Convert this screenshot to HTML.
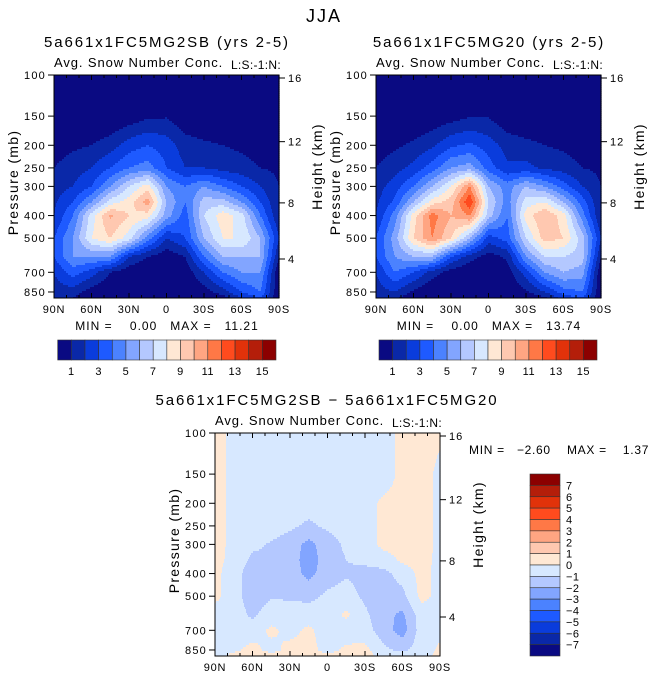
<!DOCTYPE html>
<html><head><meta charset="utf-8">
<style>
html,body{margin:0;padding:0;background:#fff;}
svg{display:block;font-family:"Liberation Sans",sans-serif;}
text{fill:#000;white-space:pre;}
</style></head>
<body>
<svg id="chart" width="648" height="681" viewBox="0 0 648 681">
<text x="324" y="22" font-size="18" text-anchor="middle" letter-spacing="2" fill="#333">JJA</text>
<g id="plots"></g>
</svg>
<script>
// ---- data ----
const lats = [90,75,60,45,30,15,0,-15,-30,-45,-60,-75,-90];
const levels = [100,150,200,250,300,350,400,500,600,700,850,900];
const fieldA = [
 [0,0,0,0,0,0,0,0,0,0,0,0,0],
 [0,0,0,0,0.3,0.8,0.9,0.2,0,0,0,0,0],
 [0.5,0.8,1,1.5,2.5,3,2.5,1.5,1.2,1,0.8,0.5,0.3],
 [1,1.5,2,3,4,4.5,3,2,2,1.6,1.4,1,0.8],
 [1.5,2,3,5,7,8.5,5,4,5,4,3,2,1],
 [1.8,3,5,7.5,8.5,10.5,6,4,6.5,6.5,5,3,1],
 [2,4,7.5,10.2,9,8.5,5.5,3.5,7,8.6,7.5,4,1],
 [3,5,8,9,7.5,4.5,2,3,6,8,8,6,2],
 [3,5,5,5,2,1,0.3,1,4,6,6,6,1],
 [2,3.5,2.5,1,0.3,0,0,0.3,2,4,5,5,0],
 [1.5,1.5,0.5,0,0,0,0,0,0.5,1.5,3,4,0],
 [1,1,0,0,0,0,0,0,0,0.5,2,3,0]
];
const fieldB = [
 [0,0,0,0,0,0,0,0,0,0,0,0,0],
 [0,0,0,0.2,0.5,0.9,0.9,0.2,0,0,0,0,0],
 [0.5,0.8,1.2,1.8,2.8,3.2,2.5,1.6,1.3,1,0.8,0.5,0.3],
 [1,1.6,2.3,3.5,5,5.5,3.5,2.2,2.3,1.8,1.5,1,0.8],
 [1.5,2.5,4,6,8,11,6,4.5,6,5,3.5,2,1],
 [1.8,3.2,6,8.5,9.5,13,7,4.5,7.5,8,6,3.5,1],
 [2,4.5,8.5,11.5,10,11,6.5,4,8.5,10,8.5,4.5,1],
 [3,5.5,9,11,9,6,2.5,3.5,7,9.5,9,6.5,2],
 [3,5,6,6,3,1.5,0.5,1.2,5,7,7,6.5,1],
 [2,4,3,1.5,0.5,0,0,0.5,2.5,5,6,5.5,0],
 [1.5,2,0.8,0,0,0,0,0,0.8,2,3.5,4,0],
 [1,1.2,0.2,0,0,0,0,0,0,0.8,2.5,3,0]
];
const fieldDiff = [
 [0.4,-0.3,-0.5,-0.3,-0.5,-0.5,-0.5,-0.5,-0.5,-0.5,0.3,0.5,0.2],
 [0.4,-0.3,-0.5,-0.3,-0.5,-0.5,-0.5,-0.5,-0.5,-0.5,0.3,0.5,-0.3],
 [0.4,-0.3,-0.5,-0.5,-0.5,-0.5,-0.5,-0.5,-0.4,0.2,0.3,0.5,-0.3],
 [0.4,-0.3,-0.5,-0.5,-0.8,-1.2,-0.8,-0.5,-0.5,0.3,0.4,0.5,-0.3],
 [0.4,-0.3,-0.8,-1.1,-1.5,-2.3,-1.5,-0.8,-0.5,0.3,0.4,0.5,-0.3],
 [0.4,-0.4,-1.2,-1.1,-1.5,-2.5,-1.5,-1,-0.8,-0.5,0.2,0.4,-0.3],
 [0.3,-0.6,-1.5,-1.2,-1.5,-2.3,-1.5,-1.1,-1.3,-1.3,-0.6,0.3,-0.3],
 [0.3,-0.6,-1.5,-1.1,-1.2,-1.3,-0.8,-0.6,-1.2,-1.5,-1.3,0.3,-0.3],
 [-0.5,-0.5,-1.2,-0.5,-0.3,-0.5,-0.5,0.2,-0.8,-1.7,-2.2,-0.5,-0.3],
 [-0.5,-0.5,-0.5,0.2,-0.3,0.2,-0.5,-0.5,-0.6,-1.5,-2.5,-0.5,-0.3],
 [-0.5,-0.2,0.3,-0.3,0.3,0.3,-0.3,0.2,0.3,-0.8,-1.2,-0.5,0.2],
 [-0.5,0.3,0.5,0.3,0.5,0.3,0.2,0.3,0.5,-0.5,-0.5,-0.4,0.3]
];
const pressTicks = [100,150,200,250,300,400,500,700,850];
const latTicks = [90,60,30,0,-30,-60,-90];
const latTickLabels = ["90N","60N","30N","0","30S","60S","90S"];
const heightTicks = [16,12,8,4];
const heightTickPressure = [103,193,353,614];
const topBarLabels = [1,3,5,7,9,11,13,15];
const diffBarLabels = [7,6,5,4,3,2,1,0,-1,-2,-3,-4,-5,-6,-7];
const palette = ["#0a0a82","#0a28a8","#0a3cdc","#1e5aff","#4b82ff","#82a5ff","#b4c8ff","#d7e8ff","#ffe8d4","#ffc8b0","#ffa582","#ff7846","#ff4b1e","#e1320a","#b41e0a","#8c0000"];

const NS = "http://www.w3.org/2000/svg";
const root = document.getElementById('plots');
function mk(tag, attrs, parent){const e=document.createElementNS(NS,tag);for(const k in attrs)e.setAttribute(k,attrs[k]);(parent||root).appendChild(e);return e;}
function txt(x,y,s,size,anchor,parent,name,ls){const e=mk('text',{x:x,y:y,'font-size':size,'text-anchor':anchor||'start','letter-spacing':ls===undefined?1:ls},parent);e.textContent=s;


return e;}

const PH = 223, PW = 225, K = PH/Math.log(9.02);
function yScale(p,oy){return oy + K*Math.log(p/100);}
function xScale(lat,ox){return ox + PW*(90-lat)/180;}
function sample(grid, lat, p){
  let fi = (90-lat)/15; fi=Math.max(0,Math.min(12,fi));
  const i0=Math.min(11,Math.floor(fi)), tx=fi-i0;
  const lp=Math.log(p); let j0=0;
  while(j0<levels.length-2 && Math.log(levels[j0+1])<lp) j0++;
  let ty=(lp-Math.log(levels[j0]))/(Math.log(levels[j0+1])-Math.log(levels[j0]));
  ty=Math.max(0,Math.min(1,ty));
  const a=grid[j0][i0],b=grid[j0][i0+1],c=grid[j0+1][i0],d=grid[j0+1][i0+1];
  return (a*(1-tx)+b*tx)*(1-ty)+(c*(1-tx)+d*tx)*ty;
}
function panel(name, grid, ox, oy, idxFn){
  const g = mk('g',{});
  
  
  const rh=2;
  for(let y=0;y<PH;y+=rh){
    const p=100*Math.exp((y+rh/2)/K);
    let runStart=0, cur=null;
    for(let x=0;x<=PW;x++){
      let ci=null;
      if(x<PW){const lat=90-180*(x+0.5)/PW; ci=idxFn(sample(grid,lat,p));}
      if(ci!==cur){
        if(cur!==null){
          const r=mk('rect',{x:ox+runStart,y:oy+y,width:x-runStart+0.6,height:Math.min(rh+0.6,PH-y),fill:palette[cur]},g);
          
          
        }
        cur=ci; runStart=x;
      }
    }
  }
  const fr=mk('rect',{x:ox,y:oy,width:PW,height:PH,fill:'none',stroke:'#000','stroke-width':1},g);
  
  
  for(let lat=90;lat>=-90;lat-=10){
    const x=xScale(lat,ox), major=lat%30===0, L=major?5:3;
    mk('line',{x1:x,y1:oy+PH,x2:x,y2:oy+PH-L,stroke:'#000'},g);
    mk('line',{x1:x,y1:oy,x2:x,y2:oy+L,stroke:'#000'},g);
  }
  latTicks.forEach((lat,i)=>{txt(xScale(lat,ox),oy+PH+15,latTickLabels[i],11,'middle',g,'x-tick-label',0.8);});
  pressTicks.forEach(p=>{const y=yScale(p,oy);
    mk('line',{x1:ox-6,y1:y,x2:ox,y2:y,stroke:'#000'},g);
    txt(ox-8,y+4,String(p),11,'end',g,'y-tick-label',1.2);});
  heightTicks.forEach((h,i)=>{const y=yScale(heightTickPressure[i],oy);
    mk('line',{x1:ox+PW,y1:y,x2:ox+PW+6,y2:y,stroke:'#000'},g);
    txt(ox+PW+9,y+4,String(h),11,'start',g,'height-tick-label',1);});
  const yl=txt(0,0,'Pressure (mb)',14,'middle',g,'y-axis-title',1.3);
  yl.setAttribute('fill','#333');
  yl.setAttribute('transform',`translate(${ox-36},${oy+PH/2-4}) rotate(-90)`);
  const hl=txt(0,0,'Height (km)',14,'middle',g,'height-axis-title',1.3);
  hl.setAttribute('fill','#666');
  hl.setAttribute('transform',`translate(${ox+PW+43},${oy+PH/2-20}) rotate(-90)`);
  txt(ox,oy-8,'Avg. Snow Number Conc.',13,'start',g,'variable-label',0.9);
  txt(ox+PW+2,oy-6,'L:S:-1:N:',12,'end',g,'level-label',0.3);
}
const topIdx=v=>Math.max(0,Math.min(15,Math.floor(v)));
const diffIdx=v=>Math.max(0,Math.min(15,Math.floor(v)+8));
panel('panel-mg2sb', fieldA, 54, 75, topIdx);
panel('panel-mg20', fieldB, 376, 75, topIdx);
panel('panel-diff', fieldDiff, 215, 433, diffIdx);

txt(167,47,'5a661x1FC5MG2SB (yrs 2-5)',15,'middle',root,'panel-title-left',1.9);
txt(489,47,'5a661x1FC5MG20 (yrs 2-5)',15,'middle',root,'panel-title-right',1.9);
txt(327,405,'5a661x1FC5MG2SB − 5a661x1FC5MG20',15,'middle',root,'panel-title-diff',1.9);
txt(167,330,'MIN =    0.00   MAX =   11.21',12,'middle',root,'minmax-left',1);
txt(489,330,'MIN =    0.00   MAX =   13.74',12,'middle',root,'minmax-right',1);
txt(469,454,'MIN =   −2.60    MAX =    1.37',12,'start',root,'minmax-diff',0.7);

function hbar(name,x0,x1,y,h){
  const g=mk('g',{});
  
  
  const w=(x1-x0)/16;
  palette.forEach((c,i)=>{const r=mk('rect',{x:x0+i*w,y:y,width:w,height:h,fill:c,stroke:'#333','stroke-width':0.6},g);
    
    });
  topBarLabels.forEach(v=>txt(x0+v*w,y+h+15,String(v),11,'middle',g,'colorbar-label',0.5));
}
hbar('colorbar-left',57.7,276,340,20);
hbar('colorbar-right',379,597,340,20);
(function(){
  const g=mk('g',{});
  
  
  const y0=474,y1=656,x=530,w=30,h=(y1-y0)/16;
  palette.slice().reverse().forEach((c,i)=>{const r=mk('rect',{x:x,y:y0+i*h,width:w,height:h,fill:c,stroke:'#333','stroke-width':0.6},g);
    
    });
  diffBarLabels.forEach(v=>txt(x+w+6,y0+(8-v)*h+4,v<0?'−'+(-v):String(v),11,'start',g,'colorbar-label',0.5));
})();
</script>
</body></html>
